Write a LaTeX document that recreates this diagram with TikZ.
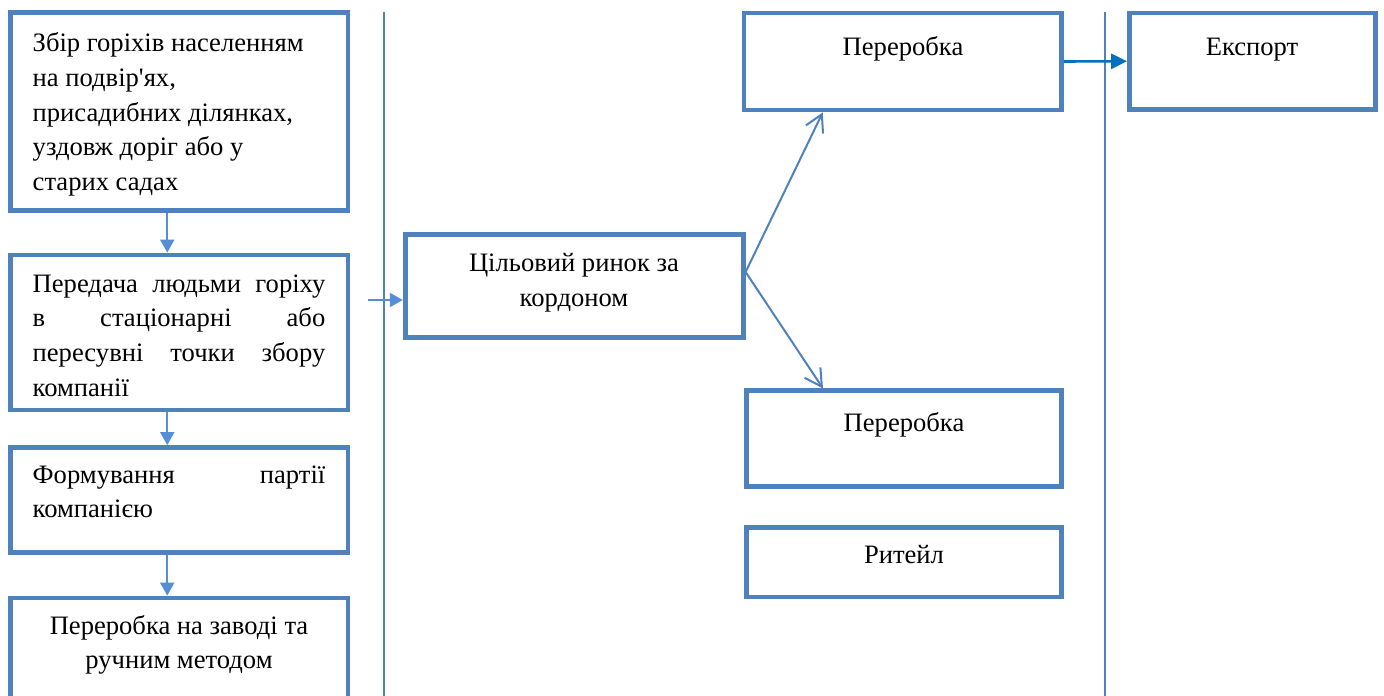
\documentclass[tikz,border=0pt]{standalone}
\usepackage{fontspec}
\setmainfont{Liberation Serif}
\usetikzlibrary{arrows.meta,positioning,calc}
\definecolor{boxblue}{RGB}{79,129,189}
\definecolor{arrowblue}{RGB}{85,142,213}
\definecolor{exportblue}{RGB}{0,112,192}
\newcommand{\leftText}[1]{\parbox[t]{146.3pt}{\raggedright #1}}
\newcommand{\midText}[1]{\parbox[t]{160pt}{\centering #1}}
\newcommand{\fullLine}[1]{\makebox[146.3pt][s]{#1}}

\begin{document}
\begin{tikzpicture}[x=0.5pt, y=-0.5pt, >=Triangle,
		stagebox/.style={draw=boxblue, line width=2.4pt, inner sep=0pt},
		boxtext/.style={inner sep=0pt, font=\fontsize{13.3}{17.3}\selectfont, anchor=base west},
		centertext/.style={inner sep=0pt, font=\fontsize{13.3}{17.3}\selectfont, anchor=base},
		flowarrow/.style={->, >={Triangle[length=6.5pt, width=7pt]}, line width=1pt, color=arrowblue},
		barbarrow/.style={->, >={Straight Barb[length=8.5pt, width=9.5pt]}, line width=1pt, color=boxblue},
		exportarrow/.style={->, >={Triangle[length=8pt, width=7.5pt]}, line width=1.3pt, color=exportblue},
		divider/.style={line width=0.8pt, color=boxblue}
		]
	
	\useasboundingbox (0,0) rectangle (1384,695);
	\clip (0,0) rectangle (1384,695);
	
	% left column
	\node [stagebox, minimum width=168.75pt, minimum height=99pt] (zbir) at (179.25,111.5) {};
	\node [stagebox, minimum width=168.75pt, minimum height=77.5pt] (peredacha) at (179.25,332.5) {};
	\node [stagebox, minimum width=168.75pt, minimum height=52.5pt] (formuv) at (179.25,500) {};
	\node [stagebox, minimum width=168.75pt, minimum height=81pt] (zavod) at (179.25,679) {};
	
	\node [boxtext] (t-zbir) at (32.3,52) {\leftText{Збір горіхів населенням\\ на подвір\textquotesingle ях,\\ присадибних ділянках,\\ уздовж доріг або у\\ старих садах}};
	\node [boxtext] (t-peredacha) at (32.3,292.3) {\leftText{\fullLine{Передача людьми горіху}\\ \fullLine{в стаціонарні або}\\ \fullLine{пересувні точки збору}\\ компанії}};
	\node [boxtext] (t-formuv) at (32.3,483.3) {\leftText{\fullLine{Формування партії}\\ компанією}};
	\node [centertext] (t-zavod) at (179,634) {\midText{Переробка на заводі та\\ ручним методом}};
	
	\draw [flowarrow] ([xshift=-6pt]zbir.south) -- ([xshift=-6pt]peredacha.north);
	\draw [flowarrow] ([xshift=-6pt]peredacha.south) -- ([xshift=-6pt]formuv.north);
	\draw [flowarrow] ([xshift=-6pt]formuv.south) -- ([xshift=-6pt]zavod.north);
	
	% borders
	\draw [divider] (384,12) coordinate (lim1) -- (384,700);
	\draw [divider] (1105,12) coordinate (lim2) -- (1105,700);
	
	% market
	\node [stagebox, minimum width=169pt, minimum height=51.5pt] (rynok) at (574.2,286) {};
	\node [centertext] (t-rynok) at (574,271.7) {\midText{Цільовий ринок за\\ кордоном}};
	\coordinate (vkhid) at (368,300);
	\draw [flowarrow] (vkhid) -- (vkhid -| rynok.west);
	
	\node [stagebox, minimum width=158.75pt, minimum height=48.5pt] (pererob-top) at (902.75,61.5) {};
	\node [centertext] (t-pererob-top) at (903,56) {\midText{Переробка}};
	\node [stagebox, minimum width=123pt, minimum height=48.25pt] (eksport) at (1252.5,61.25) {};
	\node [centertext] (t-eksport) at (1252,56) {\midText{Експорт}};
	\node [stagebox, minimum width=157.5pt, minimum height=47.85pt] (pererob-low) at (904,438.7) {};
	\node [centertext] (t-pererob-low) at (904,431.7) {\midText{Переробка}};
	\node [stagebox, minimum width=157.5pt, minimum height=34.75pt] (reteil) at (904,562.25) {};
	\node [centertext] (t-reteil) at (904,563.3) {\midText{Ритейл}};
	
	\draw [barbarrow] ([yshift=7pt]rynok.east) -- ([xshift=-40pt]pererob-top.south);
	\draw [barbarrow] ([yshift=7pt]rynok.east) -- ([xshift=-40.5pt]pererob-low.north);
	\draw [exportarrow] (pererob-top.east) -- (eksport.west);
\end{tikzpicture}
\end{document}
